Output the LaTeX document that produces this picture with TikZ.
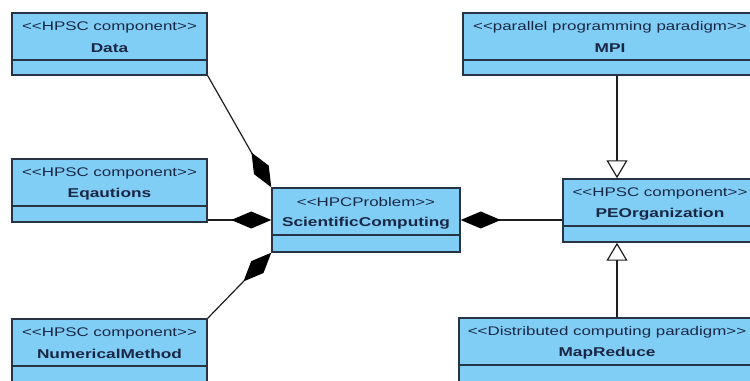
\documentclass[tikz,border=0pt]{standalone}
\usepackage{fontspec}
\usetikzlibrary{arrows.meta,fit}
\newfontfamily\umlfont[FakeStretch=1.35]{Liberation Sans}
\definecolor{classfill}{RGB}{128,206,245}
\definecolor{classedge}{RGB}{40,52,68}
\definecolor{classtext}{RGB}{26,39,68}
\definecolor{wire}{RGB}{30,30,30}

% one UML class: name, x1, y1, x2, y2, stereotype, class name
\newcommand\umlclass[7]{%
  \node[classbox, fit={(#2,#3) (#4,#5)}] (#1) {};
  \draw[classedge, line width=1.1pt] (#2,{#3+47}) -- (#4,{#3+47});
  \node[stereotext] at ({(#2+#4)/2},{#3+14}) {<<#6>>};
  \node[nametext] at ({(#2+#4)/2},{#3+35}) {#7};
}

\begin{document}
\begin{tikzpicture}[x=0.75pt, y=-0.75pt,
  classbox/.style={draw=classedge, fill=classfill, line width=1.1pt, inner sep=0pt},
  stereotext/.style={text=classtext, inner sep=0pt, font=\umlfont\fontsize{9.4}{11}\selectfont},
  nametext/.style={text=classtext, inner sep=0pt, font=\umlfont\bfseries\fontsize{9.6}{11}\selectfont},
  comp/.style={draw=wire, line width=0.9pt, {Diamond[length=30pt,width=12.75pt,color=black,fill=black]}-},
  gen/.style={draw=wire, line width=0.9pt, -{Triangle[open,length=13.5pt,width=15.75pt,fill=white]}}]
\clip (0,0) rectangle (750,381);
\fill[white] (0,0) rectangle (750,381);

\umlclass{data}{12}{13}{207}{75}{HPSC component}{Data}
\umlclass{eq}{12}{159}{207}{222}{HPSC component}{Eqautions}
\umlclass{nm}{12}{319}{207}{384}{HPSC component}{NumericalMethod}
\umlclass{sc}{272}{188}{460}{252}{HPCProblem}{ScientificComputing}
\umlclass{mpi}{463}{13}{757}{75}{parallel programming paradigm}{MPI}
\umlclass{peo}{563}{179}{757}{242}{HPSC component}{PEOrganization}
\umlclass{mr}{459}{318}{755}{384}{Distributed computing paradigm}{MapReduce}

% compositions into the problem class
\draw[comp] (sc.north west) -- (data.south east);
\draw[comp] (sc.west) -- (eq.east |- sc.west);
\draw[comp] (sc.south west) -- (nm.north east);
\draw[comp] (sc.east) -- (peo.west |- sc.east);

% generalisations onto the organisation class
\coordinate (gx) at (617,0);
\draw[gen] (mpi.south -| gx) -- (peo.north -| gx);
\draw[gen] (mr.north -| gx) -- (peo.south -| gx);
\end{tikzpicture}
\end{document}
